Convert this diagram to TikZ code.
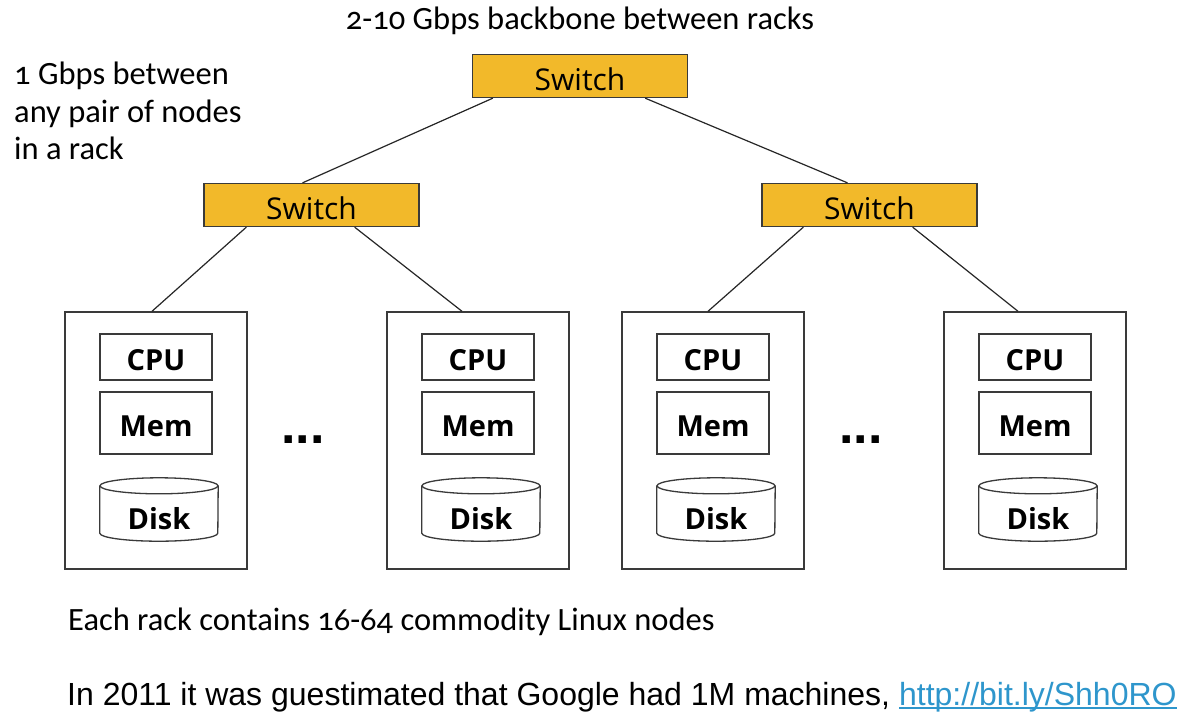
\documentclass[tikz,border=0pt]{standalone}
\usepackage{fontspec}
\setmainfont{Carlito}[Numbers=OldStyle]
\newfontfamily\osans{Open Sans}
\newfontfamily\arialf{Liberation Sans}
\definecolor{swfill}{HTML}{F2B92A}
\definecolor{edgec}{HTML}{3A3A3A}
\definecolor{linkc}{HTML}{2E96CC}
\newcommand\ulinkx[1]{\setbox0\hbox{#1}\rlap{\rule[-3.5pt]{\wd0}{1.8pt}}\box0}
\newcommand\lowr[1]{\raisebox{-3pt}[\height][\depth]{#1}}
\begin{document}
\begin{tikzpicture}[x=1pt,y=-1pt,
  sw/.style={draw=edgec, line width=1.3pt, fill=swfill, minimum width=215pt, minimum height=43pt, inner sep=0pt, font=\osans\fontsize{30}{36}\selectfont},
  rackbox/.style={draw=edgec, line width=1.4pt, minimum width=182pt, minimum height=257pt, inner sep=0pt},
  part/.style={draw=edgec, line width=1.3pt, minimum width=112pt, inner sep=0pt, font=\osans\bfseries\fontsize{29}{34}\selectfont},
  partlbl/.style={inner sep=0pt, font=\osans\bfseries\fontsize{29}{34}\selectfont},
  diskbox/.style={minimum width=118pt, minimum height=63pt, inner sep=0pt},
  diskline/.style={draw=edgec, line width=1.3pt},
  wire/.style={draw=black!85, line width=1.2pt},
  lbl/.style={inner sep=0pt, font=\fontsize{32.5}{37.5}\selectfont},
  dotsty/.style={inner sep=0pt, font=\arialf\bfseries\fontsize{52}{60}\selectfont}
]
\useasboundingbox[fill=white] (0,0) rectangle (1200,724);

\node[lbl, anchor=base] (title) at (580,29) {2-10 Gbps backbone between racks};
\node[lbl, anchor=north west, align=left] (pairtxt) at (14,62) {1 Gbps between\\any pair of nodes\\in a rack};

\node[sw] (top) at (580,76) {\lowr{Switch}};
\node[sw] (swL) at (311.5,205) {\lowr{Switch}};
\node[sw] (swR) at (869.5,205) {\lowr{Switch}};

\foreach \i/\o in {1/0,2/322,3/557,4/879}{
  \node[rackbox] (rack\i) at (156+\o,440.5) {};
  \node[part, minimum height=46pt] (cpu\i) at (156+\o,357) {\lowr{CPU}};
  \node[part, minimum height=62pt] (mem\i) at (156+\o,423) {\lowr{Mem}};
  \node[diskbox] (disk\i) at (159+\o,509.5) {};
  \node[partlbl] (disklbl\i) at (159+\o,519) {Disk};
  \draw[diskline] ([yshift=-8pt]disk\i.north west) -- ([yshift=8pt]disk\i.south west)
     arc[start angle=180, end angle=360, x radius=59pt, y radius=8pt]
     -- ([yshift=-8pt]disk\i.north east);
  \draw[diskline] ([yshift=-8pt]disk\i.north) ellipse [x radius=59pt, y radius=8pt];
}

\node[dotsty] (dotsL) at (303,440) {...};
\node[dotsty] (dotsR) at (861,440) {...};

\draw[wire] ([xshift=21pt]top.south west) -- ([xshift=-9pt]swL.north);
\draw[wire] ([xshift=-43pt]top.south east) -- ([xshift=-22pt]swR.north);
\draw[wire] ([xshift=43pt]swL.south west) -- ([xshift=-4pt]rack1.north);
\draw[wire] ([xshift=-65pt]swL.south east) -- ([xshift=-16pt]rack2.north);
\draw[wire] ([xshift=42pt]swR.south west) -- ([xshift=-5pt]rack3.north);
\draw[wire] ([xshift=-65pt]swR.south east) -- ([xshift=-17pt]rack4.north);

\node[lbl, anchor=base west] (racktxt) at (68,630) {Each rack contains 16-64 commodity Linux nodes};
\node[anchor=base west, inner sep=0pt, font=\arialf\fontsize{32}{38}\selectfont] (google) at (67,705)
  {In 2011 it was guestimated that Google had 1M machines, \textcolor{linkc}{\ulinkx{http://bit.ly/Shh0RO}}};
\end{tikzpicture}
\end{document}
